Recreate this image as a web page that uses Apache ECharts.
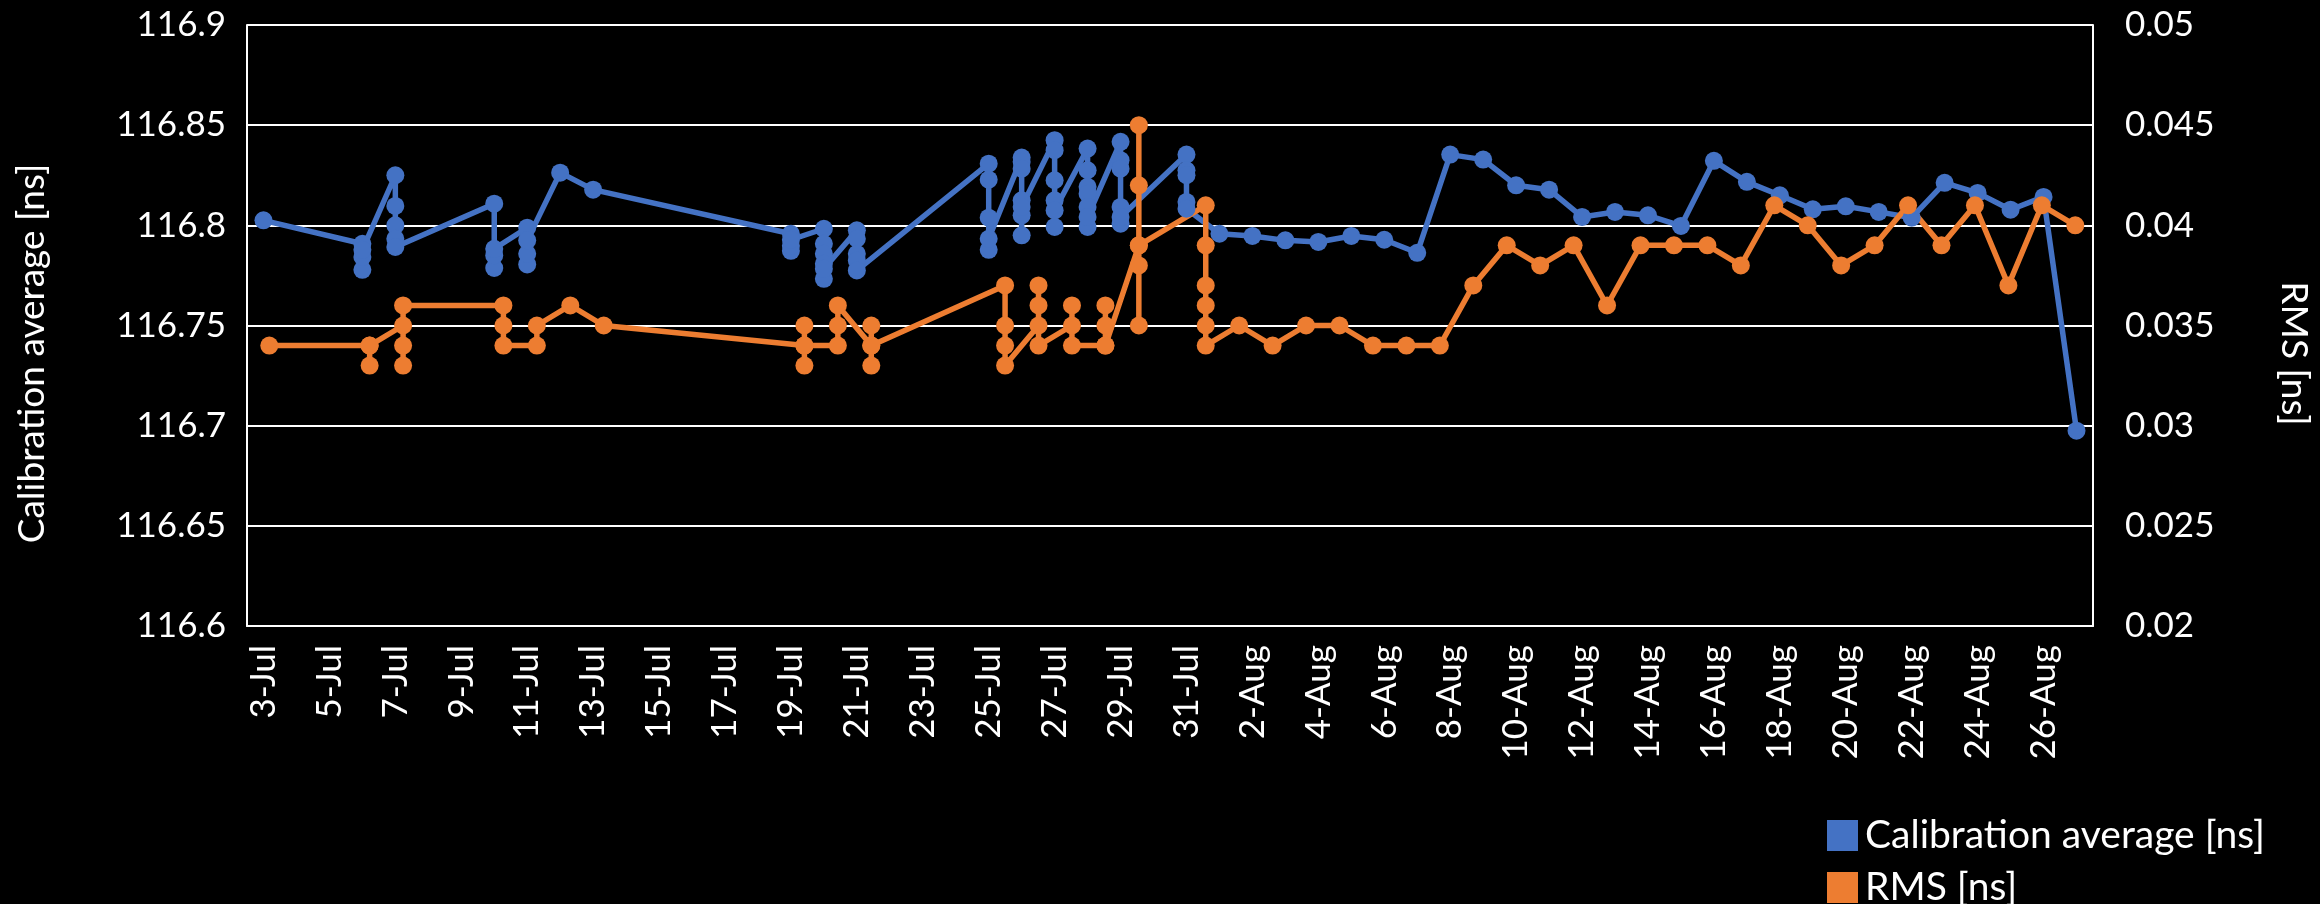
<!DOCTYPE html>
<html>
<head>
<meta charset="utf-8">
<script src="https://cdn.jsdelivr.net/npm/echarts@6/dist/echarts.min.js"></script>
<style>
  html, body { margin: 0; padding: 0; background: #000; }
  #chart { width: 2320px; height: 904px; }
</style>
</head>
<body>
<div id="chart"></div>
<script>
// measurement days and the values taken on each of them (several runs per day)
var calDays = ['3-Jul', '6-Jul', '7-Jul', '10-Jul', '11-Jul', '12-Jul', '13-Jul',
  '19-Jul', '20-Jul', '21-Jul', '25-Jul', '26-Jul', '27-Jul', '28-Jul', '29-Jul', '31-Jul',
  '1-Aug', '2-Aug', '3-Aug', '4-Aug', '5-Aug', '6-Aug', '7-Aug', '8-Aug', '9-Aug', '10-Aug',
  '11-Aug', '12-Aug', '13-Aug', '14-Aug', '15-Aug', '16-Aug', '17-Aug', '18-Aug', '19-Aug',
  '20-Aug', '21-Aug', '22-Aug', '23-Aug', '24-Aug', '25-Aug', '26-Aug', '27-Aug']
var calValues = [
  [116.8025],
  [116.7908, 116.7778, 116.7842, 116.7878],
  [116.825, 116.8097, 116.80, 116.7933, 116.7892],
  [116.8108, 116.7787, 116.785, 116.7883],
  [116.7988, 116.7805, 116.7858, 116.7925],
  [116.8263],
  [116.8178],
  [116.7958, 116.7873, 116.7898, 116.7928],
  [116.7983, 116.7733, 116.7908, 116.7858, 116.7808, 116.7783],
  [116.7975, 116.7933, 116.7858, 116.7825, 116.7775],
  [116.8308, 116.8228, 116.8038, 116.7878, 116.7933],
  [116.8338, 116.8317, 116.8283, 116.795, 116.8125, 116.805, 116.8092],
  [116.8425, 116.8375, 116.8225, 116.7992, 116.8125, 116.8075],
  [116.8383, 116.8275, 116.8192, 116.8158, 116.7992, 116.8092, 116.8042],
  [116.8417, 116.8325, 116.8283, 116.8092, 116.8008, 116.8042],
  [116.8353, 116.8275, 116.825, 116.8117, 116.8083],
  [116.7958], [116.7947], [116.7925], [116.7917], [116.7947], [116.7928], [116.7863],
  [116.8353], [116.8328], [116.82], [116.8178], [116.8042], [116.8067], [116.805],
  [116.7997], [116.8322], [116.8217], [116.815], [116.808], [116.8095], [116.8067],
  [116.8038], [116.8212], [116.8162], [116.8078], [116.8142], [116.6975]
]

var rmsDays = ['3-Jul', '6-Jul', '7-Jul', '10-Jul', '11-Jul', '12-Jul', '13-Jul',
  '19-Jul', '20-Jul', '21-Jul', '25-Jul', '26-Jul', '27-Jul', '28-Jul', '29-Jul', '31-Jul',
  '1-Aug', '2-Aug', '3-Aug', '4-Aug', '5-Aug', '6-Aug', '7-Aug', '8-Aug', '9-Aug', '10-Aug',
  '11-Aug', '12-Aug', '13-Aug', '14-Aug', '15-Aug', '16-Aug', '17-Aug', '18-Aug', '19-Aug',
  '20-Aug', '21-Aug', '22-Aug', '23-Aug', '24-Aug', '25-Aug', '26-Aug']
var rmsValues = [
  [0.034],
  [0.034, 0.033, 0.034],
  [0.035, 0.034, 0.033, 0.036],
  [0.036, 0.035, 0.034],
  [0.034, 0.035],
  [0.036],
  [0.035],
  [0.034, 0.035, 0.033, 0.034],
  [0.034, 0.035, 0.036],
  [0.034, 0.035, 0.033, 0.034],
  [0.037, 0.035, 0.034, 0.033],
  [0.035, 0.037, 0.036, 0.034],
  [0.035, 0.036, 0.034],
  [0.034, 0.036, 0.035, 0.034],
  [0.039, 0.045, 0.042, 0.038, 0.035, 0.039],
  [0.041, 0.039, 0.037, 0.036, 0.035, 0.034],
  [0.035], [0.034], [0.035], [0.035], [0.034], [0.034], [0.034],
  [0.037], [0.039], [0.038], [0.039], [0.036], [0.039], [0.039],
  [0.039], [0.038], [0.041], [0.040], [0.038], [0.039], [0.041],
  [0.039], [0.041], [0.037], [0.041], [0.040]
]

var tickLabels = ['3-Jul', '5-Jul', '7-Jul', '9-Jul', '11-Jul', '13-Jul', '15-Jul', '17-Jul',
  '19-Jul', '21-Jul', '23-Jul', '25-Jul', '27-Jul', '29-Jul', '31-Jul', '2-Aug', '4-Aug',
  '6-Aug', '8-Aug', '10-Aug', '12-Aug', '14-Aug', '16-Aug', '18-Aug', '20-Aug', '22-Aug',
  '24-Aug', '26-Aug']

// days counted from 3-Jul
function dayIndex (s) {
  var p = s.split('-')
  return Number(p[0]) + (p[1] === 'Aug' ? 31 : 0) - 3
}

function toPoints (days, values) {
  var out = []
  days.forEach(function (d, i) {
    values[i].forEach(function (v) { out.push([dayIndex(d), v]) })
  })
  return out
}

var tickDays = tickLabels.map(dayIndex)
var labelOf = {}
tickLabels.forEach(function (t) { labelOf[dayIndex(t)] = t })

var font = 'Lato'
var legendBase = {
  left: 1822,
  itemWidth: 31,
  itemHeight: 31,
  icon: 'rect',
  textStyle: { color: '#fff', fontSize: 39, fontFamily: font, padding: [0, 0, 0, 2] }
}

var chart = echarts.init(document.getElementById('chart'))
chart.setOption({
  backgroundColor: '#000',
  animation: false,
  textStyle: { fontFamily: font },
  grid: { left: 247, right: 226, top: 25, bottom: 278 },
  legend: [
    Object.assign({ top: 811, data: ['Calibration average [ns]'] }, legendBase),
    Object.assign({ top: 863, data: ['RMS [ns]'] }, legendBase)
  ],
  xAxis: [{
    type: 'value',
    min: -0.5,
    max: 55.5,
    axisLine: { show: true, onZero: false, lineStyle: { color: '#fff', width: 2 } },
    axisTick: { show: false },
    splitLine: { show: false },
    axisLabel: {
      customValues: tickDays,
      rotate: 90,
      margin: 19,
      color: '#fff',
      fontSize: 35,
      fontFamily: font,
      formatter: function (v) { return labelOf[v] || '' }
    }
  }, {
    type: 'value',
    min: -0.667,
    max: 54.53,
    show: false
  }],
  yAxis: [{
    type: 'value',
    min: 116.6,
    max: 116.9,
    interval: 0.05,
    name: 'Calibration average [ns]',
    nameLocation: 'middle',
    nameGap: 196,
    nameTextStyle: { color: '#fff', fontSize: 37, fontFamily: font, padding: [0, 56, 0, 0] },
    axisLine: { show: true, onZero: false, lineStyle: { color: '#fff', width: 2 } },
    axisTick: { show: false },
    axisLabel: { color: '#fff', fontSize: 35, fontFamily: font, margin: 21 },
    splitLine: { show: true, lineStyle: { color: '#fff', width: 2 } }
  }, {
    type: 'value',
    min: 0.02,
    max: 0.05,
    interval: 0.005,
    name: 'RMS [ns]',
    nameLocation: 'middle',
    nameGap: 182,
    nameRotate: -90,
    nameTextStyle: { color: '#fff', fontSize: 37, fontFamily: font, padding: [0, 0, 0, 56] },
    axisLine: { show: true, onZero: false, lineStyle: { color: '#fff', width: 2 } },
    axisTick: { show: false },
    axisLabel: { color: '#fff', fontSize: 35, fontFamily: font, margin: 32 },
    splitLine: { show: false }
  }],
  series: [{
    name: 'Calibration average [ns]',
    type: 'line',
    xAxisIndex: 0,
    yAxisIndex: 0,
    data: toPoints(calDays, calValues),
    symbol: 'circle',
    symbolSize: 18,
    color: '#4472C4',
    lineStyle: { width: 5.5, color: '#4472C4', join: 'round' },
    itemStyle: { color: '#4472C4' }
  }, {
    name: 'RMS [ns]',
    type: 'line',
    xAxisIndex: 1,
    yAxisIndex: 1,
    data: toPoints(rmsDays, rmsValues),
    symbol: 'circle',
    symbolSize: 18,
    color: '#ED7D31',
    lineStyle: { width: 5.5, color: '#ED7D31', join: 'round' },
    itemStyle: { color: '#ED7D31' }
  }]
})
</script>
</body>
</html>
